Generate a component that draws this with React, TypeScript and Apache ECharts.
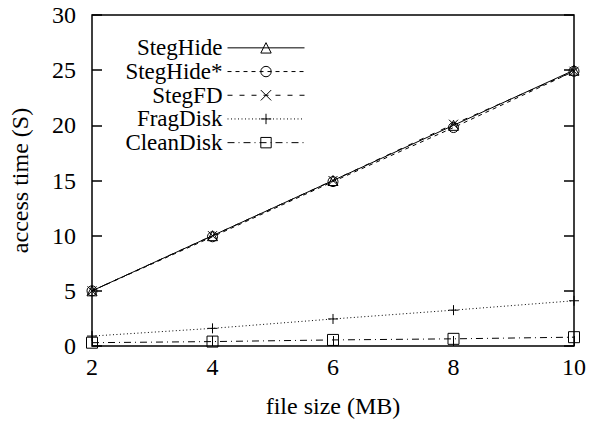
import React, { useEffect, useRef } from "react";
import * as echarts from "echarts";

const fileSizes = [2, 4, 6, 8, 10];
const stegHide = [5.0, 10.0, 15.0, 20.0, 25.0];
const stegHideStar = [5.0, 9.9, 14.9, 19.8, 24.9];
const stegFD = [5.0, 10.0, 15.0, 20.1, 24.9];
const fragDisk = [0.9, 1.6, 2.45, 3.25, 4.1];
const cleanDisk = [0.3, 0.4, 0.55, 0.65, 0.8];
const seriesNames = ["StegHide", "StegHide*", "StegFD", "FragDisk", "CleanDisk"];

const FONT = "'Liberation Serif', 'Times New Roman', serif";

const SYM = {
  triangle: "path://M5,0L10,9L0,9Z",
  circle: "path://M0,5A5,5 0 1,1 10,5A5,5 0 1,1 0,5Z",
  cross: "path://M0,0L10,10M10,0L0,10",
  plus: "path://M5,0L5,10M0,5L10,5",
  square: "path://M0,0L10,0L10,10L0,10Z",
};

export default function App() {
  const ref = useRef<HTMLDivElement>(null);
  useEffect(() => {
    if (!ref.current) return;
    const chart = echarts.init(ref.current, null, { renderer: "svg" });
    const mk = (name: string, vals: number[], symbol: string, dash: any, size = 10) => ({
      name,
      type: "line",
      data: fileSizes.map((x, i) => [x, vals[i]]),
      symbol,
      symbolSize: size,
      showAllSymbol: true,
      clip: false,
      lineStyle: { color: "#000", width: 1, type: dash },
      itemStyle: { color: "none", borderColor: "#000", borderWidth: 1 },
      emphasis: { disabled: true },
    });
    chart.setOption({
      animation: false,
      backgroundColor: "#fff",
      grid: {
        left: 92,
        right: 15,
        top: 15,
        bottom: 77,
        show: true,
        borderColor: "#000",
        borderWidth: 1.5,
        backgroundColor: "transparent",
      },
      legend: {
        orient: "vertical",
        align: "right",
        right: 284,
        top: 36,
        padding: 0,
        itemGap: 0,
        itemWidth: 77,
        itemHeight: 13,
        data: seriesNames,
        selectedMode: false,
        itemStyle: { borderWidth: 1 },
        lineStyle: { width: 1 },
        textStyle: { fontFamily: FONT, fontSize: 23, color: "#000", lineHeight: 23.7 },
      },
      xAxis: [
        {
          type: "value",
          min: 2,
          max: 10,
          interval: 2,
          name: "file size (MB)",
          nameLocation: "middle",
          nameGap: 48,
          nameTextStyle: { fontFamily: FONT, fontSize: 24, color: "#000" },
          axisLine: { show: false },
          axisTick: { show: true, inside: true, length: 10, lineStyle: { color: "#000", width: 1 } },
          axisLabel: { fontFamily: FONT, fontSize: 24, color: "#000", margin: 9 },
          splitLine: { show: false },
        },
      ],
      yAxis: [
        {
          type: "value",
          min: 0,
          max: 30,
          interval: 5,
          name: "access time (S)",
          nameLocation: "middle",
          nameGap: 60,
          nameRotate: 90,
          nameMoveOverlap: false,
          nameTextStyle: { fontFamily: FONT, fontSize: 24, color: "#000" },
          axisLine: { show: false },
          axisTick: { show: true, inside: true, length: 10, lineStyle: { color: "#000", width: 1.5 } },
          axisLabel: { fontFamily: FONT, fontSize: 24, color: "#000", margin: 16 },
          splitLine: { show: false },
        },
        {
          type: "value",
          min: 0,
          max: 30,
          interval: 5,
          position: "right",
          axisLine: { show: false },
          axisTick: { show: true, inside: true, length: 10, lineStyle: { color: "#000", width: 1.5 } },
          axisLabel: { show: false },
          splitLine: { show: false },
        },
      ],
      series: [
        mk(seriesNames[0], stegHide, SYM.triangle, "solid"),
        mk(seriesNames[1], stegHideStar, SYM.circle, [4, 4]),
        mk(seriesNames[2], stegFD, SYM.cross, [5, 7], 9),
        mk(seriesNames[3], fragDisk, SYM.plus, [1, 2.5]),
        mk(seriesNames[4], cleanDisk, SYM.square, [7, 4, 1, 4], 11),
      ],
    });
    return () => chart.dispose();
  }, []);
  return (
    <div
      ref={ref}
      style={{ position: "absolute", left: 0, top: 0, width: 589, height: 423 }}
    />
  );
}
